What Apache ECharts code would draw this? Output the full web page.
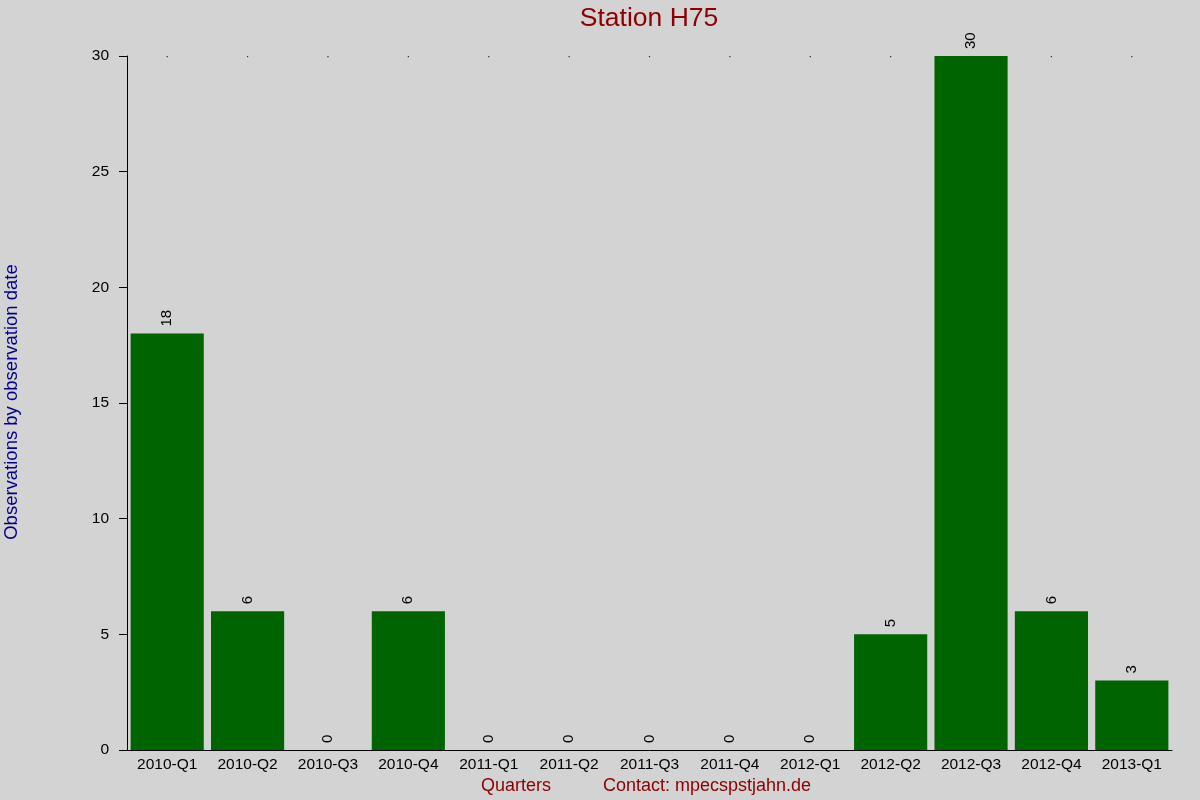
<!DOCTYPE html>
<html>
<head>
<meta charset="utf-8">
<script src="https://cdn.jsdelivr.net/npm/echarts@6/dist/echarts.min.js"></script>
<style>
html,body{margin:0;padding:0;background:#d3d3d3;}
#chart{width:1200px;height:800px;}
</style>
</head>
<body>
<div id="chart"></div>
<script>
const categories = ['2010-Q1','2010-Q2','2010-Q3','2010-Q4','2011-Q1','2011-Q2','2011-Q3','2011-Q4','2012-Q1','2012-Q2','2012-Q3','2012-Q4','2013-Q1'];
const observations = [18, 6, 0, 6, 0, 0, 0, 0, 0, 5, 30, 6, 3];
const topDots = [30, 30, 30, 30, 30, 30, 30, 30, 30, 30, 30, 30, 30];
const yTicks = [0, 5, 10, 15, 20, 25, 30];

const FONT = '"Liberation Sans", Arial, sans-serif';
const chart = echarts.init(document.getElementById('chart'), null, {renderer: 'canvas'});
chart.setOption({
  animation: false,
  backgroundColor: '#d3d3d3',
  textStyle: {fontFamily: FONT},
  grid: {left: 127, right: 28, top: 56, bottom: 50, containLabel: false},
  xAxis: {
    type: 'category',
    data: categories,
    axisLine: {lineStyle: {color: '#000', width: 1}},
    axisTick: {show: false},
    axisLabel: {color: '#000', fontSize: 15.5, margin: 7, interval: 0, fontFamily: FONT},
    splitLine: {show: false}
  },
  yAxis: {
    type: 'value',
    min: yTicks[0], max: yTicks[yTicks.length - 1], interval: 5,
    axisLine: {show: true, lineStyle: {color: '#000', width: 1}},
    axisTick: {show: true, length: 8, lineStyle: {color: '#000'}},
    axisLabel: {color: '#000', fontSize: 15.5, margin: 18, fontFamily: FONT},
    splitLine: {show: false}
  },
  graphic: [
    {type: 'text', x: 649, y: 19,
     style: {text: 'Station H75', fill: '#8b0000', fontSize: 26.5, fontFamily: FONT, textAlign: 'center', textVerticalAlign: 'middle'}},
    {type: 'text', x: 12, y: 402, rotation: Math.PI / 2,
     style: {text: 'Observations by observation date', fill: '#00008b', fontSize: 18.5, fontFamily: FONT, textAlign: 'center', textVerticalAlign: 'middle'}},
    {type: 'text', x: 516, y: 786,
     style: {text: 'Quarters', fill: '#8b0000', fontSize: 18, fontFamily: FONT, textAlign: 'center', textVerticalAlign: 'middle'}},
    {type: 'text', x: 603, y: 786,
     style: {text: 'Contact: mpecspstjahn.de', fill: '#8b0000', fontSize: 18, fontFamily: FONT, textAlign: 'left', textVerticalAlign: 'middle'}}
  ],
  series: [
    {
      type: 'scatter',
      data: topDots,
      symbol: 'rect',
      symbolSize: 1.2,
      symbolOffset: [0, 0.6],
      itemStyle: {color: '#000'},
      z: 1,
      silent: true
    },
    {
      type: 'bar',
      data: observations,
      barCategoryGap: '9%',
      itemStyle: {color: '#006400'},
      z: 2,
      label: {
        show: true,
        position: 'top',
        rotate: 90,
        align: 'left',
        verticalAlign: 'middle',
        distance: 7,
        color: '#000',
        fontSize: 15,
        fontFamily: FONT
      }
    }
  ]
});
</script>
</body>
</html>
